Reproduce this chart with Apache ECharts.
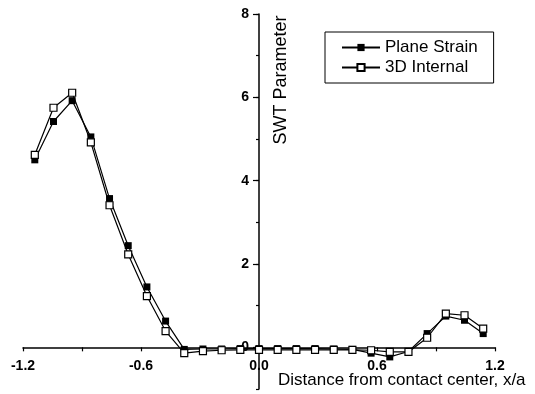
<!DOCTYPE html>
<html>
<head>
<meta charset="utf-8">
<script src="https://cdn.jsdelivr.net/npm/echarts@6/dist/echarts.min.js"></script>
<style>
  html, body { margin: 0; padding: 0; background: #fff; }
  #chart { width: 535px; height: 394px; }
</style>
</head>
<body>
<div id="chart"></div>
<script>
// x/a positions of the sampled points
const xPositions = [-1.14, -1.045, -0.95, -0.855, -0.76, -0.665, -0.57, -0.475, -0.38, -0.285, -0.19, -0.095,
  0, 0.095, 0.19, 0.285, 0.38, 0.475, 0.57, 0.665, 0.76, 0.855, 0.95, 1.045, 1.14]

// SWT parameter, plane strain model
const planeStrain = [4.50, 5.42, 5.92, 5.05, 3.57, 2.44, 1.45, 0.63, -0.05, -0.04, -0.04, -0.03,
  -0.03, -0.03, -0.03, -0.03, -0.04, -0.05, -0.14, -0.23, -0.10, 0.33, 0.75, 0.65, 0.33]

// SWT parameter, 3D model (internal)
const internal3D = [4.62, 5.75, 6.11, 4.92, 3.41, 2.23, 1.23, 0.39, -0.14, -0.09, -0.07, -0.06,
  -0.06, -0.06, -0.06, -0.06, -0.06, -0.06, -0.07, -0.11, -0.11, 0.23, 0.81, 0.77, 0.45]

const yMajorTicks = [0, 2, 4, 6, 8]

const font = 'Liberation Sans, Arial, sans-serif'

// plot box in pixels; axes cross at (0, 0) inside it
const gridLeft = 23
const gridTop = 14
const gridWidth = 472
const gridHeight = 375
const xMin = -1.2, xMax = 1.2
const yMin = -1, yMax = 8
const yAxisOffset = -gridWidth * (0 - xMin) / (xMax - xMin)
const xAxisOffset = -gridHeight * (0 - yMin) / (yMax - yMin)

const toPairs = (xs, ys) => xs.map((x, i) => [x, ys[i]])

const chart = echarts.init(document.getElementById('chart'))

const option = {
  animation: false,
  backgroundColor: '#fff',
  grid: {
    left: gridLeft,
    top: gridTop,
    width: gridWidth,
    height: gridHeight,
    containLabel: false,
    outerBoundsMode: 'none'
  },
  legend: {
    orient: 'vertical',
    left: 325,
    top: 32,
    borderColor: '#000',
    borderWidth: 1,
    padding: [7, 16, 7, 16],
    itemGap: 3,
    itemWidth: 38,
    itemHeight: 9,
    textStyle: {
      color: '#000',
      fontFamily: font,
      fontSize: 17,
      lineHeight: 17
    },
    data: ['Plane Strain', '3D Internal']
  },
  xAxis: {
    type: 'value',
    min: xMin,
    max: xMax,
    interval: 0.3,
    position: 'bottom',
    offset: xAxisOffset,
    splitLine: { show: false },
    axisLine: {
      onZero: false,
      lineStyle: { color: '#000', width: 1.5 }
    },
    axisTick: {
      length: 4,
      lineStyle: { color: '#000', width: 1.2 }
    },
    axisLabel: {
      margin: 12,
      color: '#000',
      fontFamily: font,
      fontSize: 14,
      fontWeight: 'bold',
      formatter: v => (Math.round(v * 10) % 6 === 0 ? v.toFixed(1) : '')
    }
  },
  yAxis: [
    {
      type: 'value',
      min: yMin,
      max: yMax,
      interval: 1,
      position: 'left',
      offset: yAxisOffset,
      splitLine: { show: false },
      axisLine: {
        onZero: false,
        lineStyle: { color: '#000', width: 1.5 }
      },
      axisTick: {
        length: 3,
        lineStyle: { color: '#000', width: 1.2 }
      },
      axisLabel: {
        margin: 10,
        color: '#000',
        fontFamily: font,
        fontSize: 14,
        fontWeight: 'bold',
        formatter: v => (yMajorTicks.indexOf(v) >= 0 ? String(v) : '')
      }
    },
    {
      // second axis only for the longer major ticks
      type: 'value',
      min: yMin,
      max: yMax,
      interval: 1,
      position: 'left',
      offset: yAxisOffset,
      splitLine: { show: false },
      axisLine: { show: false, onZero: false },
      axisLabel: { show: false },
      axisTick: {
        length: 6,
        customValues: yMajorTicks,
        lineStyle: { color: '#000', width: 1.2 }
      }
    }
  ],
  graphic: [
    {
      type: 'text',
      x: 281,
      y: 80,
      rotation: Math.PI / 2,
      style: {
        text: 'SWT Parameter',
        fill: '#000',
        font: '18px ' + font,
        align: 'center',
        verticalAlign: 'middle'
      }
    },
    {
      type: 'text',
      x: 278,
      y: 380,
      style: {
        text: 'Distance from contact center, x/a',
        fill: '#000',
        font: '17px ' + font,
        align: 'left',
        verticalAlign: 'middle'
      }
    }
  ],
  series: [
    {
      name: 'Plane Strain',
      type: 'line',
      data: toPairs(xPositions, planeStrain),
      symbol: 'rect',
      symbolSize: 7,
      lineStyle: { color: '#000', width: 1.2 },
      itemStyle: { color: '#000' }
    },
    {
      name: '3D Internal',
      type: 'line',
      data: toPairs(xPositions, internal3D),
      symbol: 'rect',
      symbolSize: 7,
      lineStyle: { color: '#000', width: 1.2 },
      itemStyle: { color: '#fff', borderColor: '#000', borderWidth: 1.2 }
    }
  ]
}

chart.setOption(option)
</script>
</body>
</html>
